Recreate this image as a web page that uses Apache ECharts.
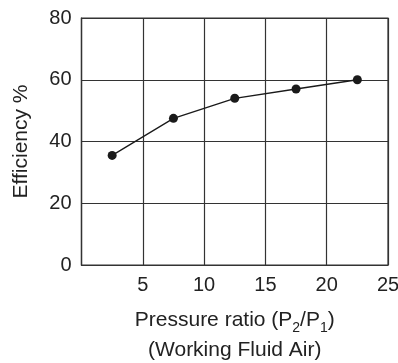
<!DOCTYPE html>
<html><head><meta charset="utf-8">
<script src="https://cdn.jsdelivr.net/npm/echarts@6/dist/echarts.min.js"></script>
<style>html,body{margin:0;padding:0;background:#fff}#c{width:398px;height:363px}</style>
</head><body><div id="c"></div>
<script>
const pressureRatio = [2.5, 7.5, 12.5, 17.5, 22.5];
const efficiency = [35.5, 47.5, 54, 57, 60];
const xTicks = [0, 5, 10, 15, 20, 25];
const yTicks = [0, 20, 40, 60, 80];

const chart = echarts.init(document.getElementById('c'));
const font = 'Liberation Sans, Arial, sans-serif';
chart.setOption({
  animation: false,
  grid: {left: 81.5, right: 10, top: 18, bottom: 98, show: true, borderColor: '#333', borderWidth: 1.2,
    outerBoundsMode: 'none', containLabel: false},
  xAxis: {
    type: 'value', min: 0, max: 25, interval: 5,
    axisLine: {show: true, lineStyle: {color: '#333', width: 1.2}},
    axisTick: {show: false},
    splitLine: {show: true, lineStyle: {color: '#333', width: 1.2}},
    axisLabel: {color: '#222', fontSize: 20, fontFamily: font, margin: 10,
      formatter: v => v === 0 ? '' : String(v)},
    name: '{n|Pressure ratio (P}{s|2}{n|/P}{s|1}{n|)}\n{n|(Working Fluid Air)}',
    nameLocation: 'middle', nameGap: 40,
    nameTextStyle: {
      rich: {
        n: {fontSize: 21, fontFamily: font, color: '#222', lineHeight: 30},
        s: {fontSize: 14, fontFamily: font, color: '#222', lineHeight: 30, verticalAlign: 'bottom', padding: [13, 0, 0, 0]}
      }
    }
  },
  yAxis: {
    type: 'value', min: 0, max: 80, interval: 20,
    axisLine: {show: true, lineStyle: {color: '#333', width: 1.2}},
    axisTick: {show: false},
    splitLine: {show: true, lineStyle: {color: '#333', width: 1.2}},
    axisLabel: {color: '#222', fontSize: 20, fontFamily: font, margin: 10},
    name: 'Efficiency %', nameLocation: 'middle', nameGap: 50,
    nameTextStyle: {fontSize: 21, fontFamily: font, color: '#222'}
  },
  series: [{
    type: 'line',
    data: pressureRatio.map((x, i) => [x, efficiency[i]]),
    symbol: 'circle', symbolSize: 9,
    itemStyle: {color: '#1a1a1a'},
    lineStyle: {color: '#1a1a1a', width: 1.3}
  }]
});
</script></body></html>
